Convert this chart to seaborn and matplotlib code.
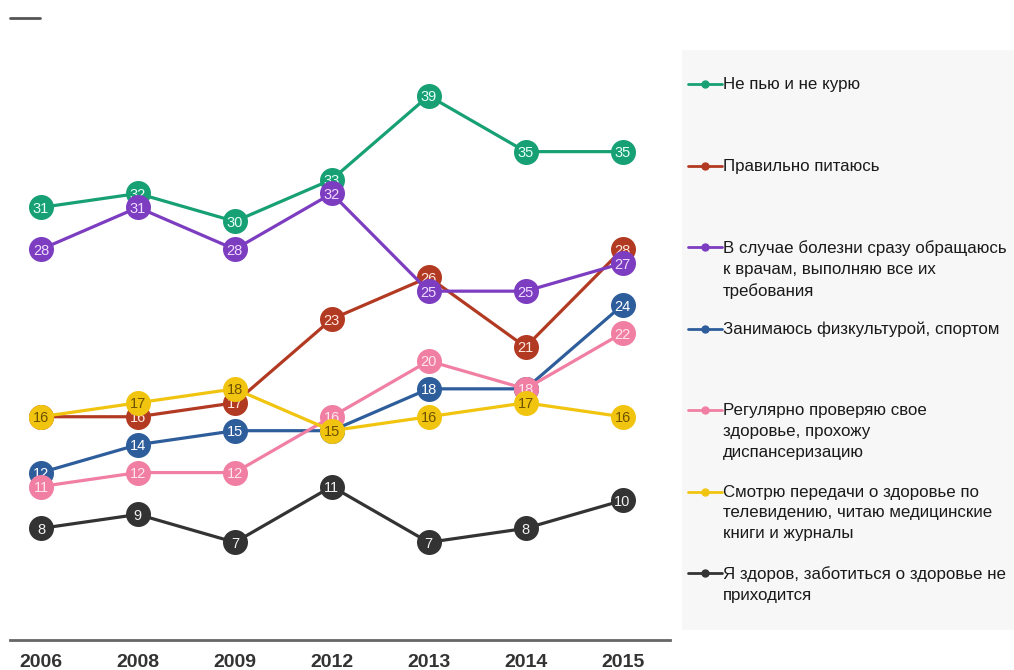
import numpy as np
import pandas as pd
import matplotlib
matplotlib.use("Agg")
import matplotlib.pyplot as plt
from matplotlib.lines import Line2D
from matplotlib.patches import Rectangle
import seaborn as sns

# данные
years = ["2006", "2008", "2009", "2012", "2013", "2014", "2015"]

ne_pyu = [31, 32, 30, 33, 39, 35, 35]
pitanie = [16, 16, 17, 23, 26, 21, 28]
vrachi = [28, 31, 28, 32, 25, 25, 27]
sport = [12, 14, 15, 15, 18, 18, 24]
proverka = [11, 12, 12, 16, 20, 18, 22]
peredachi = [16, 17, 18, 15, 16, 17, 16]
zdorov = [8, 9, 7, 11, 7, 8, 10]

labels = [
    "Не пью и не курю",
    "Правильно питаюсь",
    "В случае болезни сразу обращаюсь\nк врачам, выполняю все их\nтребования",
    "Занимаюсь физкультурой, спортом",
    "Регулярно проверяю свое\nздоровье, прохожу\nдиспансеризацию",
    "Смотрю передачи о здоровье по\nтелевидению, читаю медицинские\nкниги и журналы",
    "Я здоров, заботиться о здоровье не\nприходится",
]
series = [ne_pyu, pitanie, vrachi, sport, proverka, peredachi, zdorov]
colors = ["#17a074", "#b33a22", "#7c3dc0", "#2e5d9c", "#f07fa3", "#f1c40f", "#333333"]
text_colors = ["#e6fff5", "#ffe8e0", "#efdcff", "#ffffff", "#ffe6ee", "#6e5200", "#f2f2f2"]
# порядок отрисовки (кто поверх кого)
zorders = [3, 4, 9, 5, 6, 7, 10]

sns.set_theme(style="white")
plt.rcParams["font.family"] = ["Liberation Sans", "DejaVu Sans"]

fig = plt.figure(figsize=(10.14, 6.70), dpi=100)
ax = fig.add_axes([10 / 1014, 1 - 640 / 670, 660 / 1014, 600 / 670])

# серый фон легенды
fig.patches.append(Rectangle((682 / 1014, 1 - 630 / 670), (1014 - 682) / 1014, 580 / 670,
                             transform=fig.transFigure, facecolor="#f7f7f7",
                             edgecolor="none", zorder=0))

x = np.arange(len(years))
for vals, col, tcol, z in zip(series, colors, text_colors, zorders):
    df = pd.DataFrame({"x": x, "y": vals})
    sns.lineplot(data=df, x="x", y="y", ax=ax, color=col, lw=2.3, marker="o",
                 markersize=18, markeredgewidth=0, zorder=z)
    for xi, v in zip(x, vals):
        ax.text(xi, v, str(v), ha="center", va="center_baseline", fontsize=10.5,
                color=tcol, zorder=z + 0.5)

ax.set_xlim(-0.32, 6.49)
ax.set_ylim(0, 43)
ax.set_xticks(x)
ax.set_xticklabels(years, fontsize=14, fontweight="bold", color="#333333")
ax.set_yticks([])
ax.set_xlabel("")
ax.set_ylabel("")
ax.tick_params(axis="x", length=0, pad=10)
for s in ["top", "left", "right"]:
    ax.spines[s].set_visible(False)
ax.spines["bottom"].set_color("#666666")
ax.spines["bottom"].set_linewidth(2)
ax.patch.set_alpha(0)

# легенда вручную
for i, (lab, col) in enumerate(zip(labels, colors)):
    yp = 84 + i * 81.5
    yf = 1 - yp / 670
    fig.add_artist(Line2D([688 / 1014, 722 / 1014], [yf, yf], color=col, lw=2,
                          transform=fig.transFigure))
    fig.add_artist(Line2D([705 / 1014], [yf], color=col, marker="o", ms=5,
                          transform=fig.transFigure))
    fig.text(723 / 1014, 1 - (yp - 7) / 670, lab, ha="left", va="top",
             fontsize=12.2, color="#1a1a1a", linespacing=1.48,
             transform=fig.transFigure)

# короткая черта сверху слева
fig.add_artist(Line2D([10 / 1014, 40 / 1014], [1 - 18 / 670, 1 - 18 / 670],
                      color="#555555", lw=2, transform=fig.transFigure))

fig.savefig("out.png", dpi=100)
